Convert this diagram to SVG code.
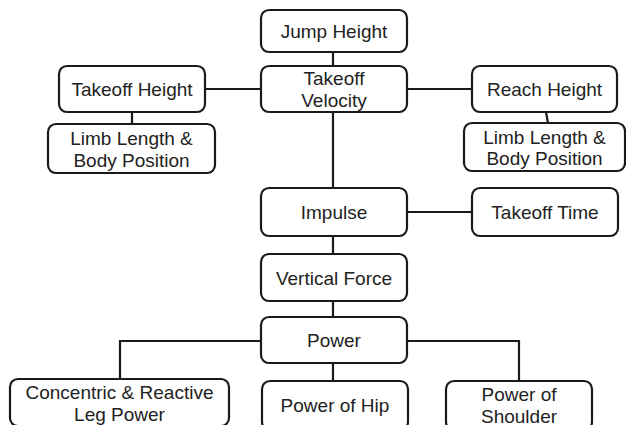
<svg xmlns="http://www.w3.org/2000/svg" width="626" height="425" viewBox="0 0 626 425">
<style>
.box{fill:#fff;stroke:#1a1a1a;stroke-width:2.2}
.t{font-family:"Liberation Sans",Arial,sans-serif;font-size:19px;fill:#222;text-anchor:middle}
.c{fill:none;stroke:#1a1a1a;stroke-width:2.2}
</style>
<rect width="626" height="425" fill="#fff"/>
<g id="connectors">
<path class="c" d="M333 52V66M333 112V188M333 236V254M333 301V317M333 363V381"/>
<path class="c" d="M205 89H261M407 89H472M132 112V124M546 112L548 123M407 212H472"/>
<path class="c" d="M261 341H120V379M407 341H519V381"/>
</g>
<g id="jump-height"><rect class="box" x="261" y="10" width="146" height="42" rx="8"/><text class="t" x="334" y="38">Jump Height</text></g>
<g id="takeoff-velocity"><rect class="box" x="261" y="66" width="146" height="46" rx="8"/><text class="t" x="334" y="85">Takeoff</text><text class="t" x="334" y="106.5">Velocity</text></g>
<g id="takeoff-height"><rect class="box" x="59" y="66" width="146" height="46" rx="8"/><text class="t" x="132" y="96">Takeoff Height</text></g>
<g id="limb-left"><rect class="box" x="48" y="124" width="167" height="49" rx="8"/><text class="t" x="131.5" y="145">Limb Length &amp;</text><text class="t" x="131.5" y="166.5">Body Position</text></g>
<g id="reach-height"><rect class="box" x="472" y="66" width="145" height="46" rx="8"/><text class="t" x="544.5" y="96">Reach Height</text></g>
<g id="limb-right"><rect class="box" x="464" y="123" width="161" height="48" rx="8"/><text class="t" x="544.5" y="143.5">Limb Length &amp;</text><text class="t" x="544.5" y="165">Body Position</text></g>
<g id="impulse"><rect class="box" x="261" y="188" width="146" height="48" rx="8"/><text class="t" x="334" y="219">Impulse</text></g>
<g id="takeoff-time"><rect class="box" x="472" y="188" width="146" height="48" rx="8"/><text class="t" x="545" y="219">Takeoff Time</text></g>
<g id="vertical-force"><rect class="box" x="261" y="254" width="146" height="47" rx="8"/><text class="t" x="334" y="284.5">Vertical Force</text></g>
<g id="power"><rect class="box" x="261" y="317" width="146" height="46" rx="8"/><text class="t" x="334" y="347">Power</text></g>
<g id="concentric"><rect class="box" x="10" y="379" width="219" height="47" rx="8"/><text class="t" x="119.5" y="398.5">Concentric &amp; Reactive</text><text class="t" x="119.5" y="420.5">Leg Power</text></g>
<g id="power-hip"><rect class="box" x="262" y="381" width="146" height="49" rx="8"/><text class="t" x="335" y="412">Power of Hip</text></g>
<g id="power-shoulder"><rect class="box" x="446" y="381" width="146" height="49" rx="8"/><text class="t" x="519" y="401">Power of</text><text class="t" x="519" y="422.5">Shoulder</text></g>
</svg>
